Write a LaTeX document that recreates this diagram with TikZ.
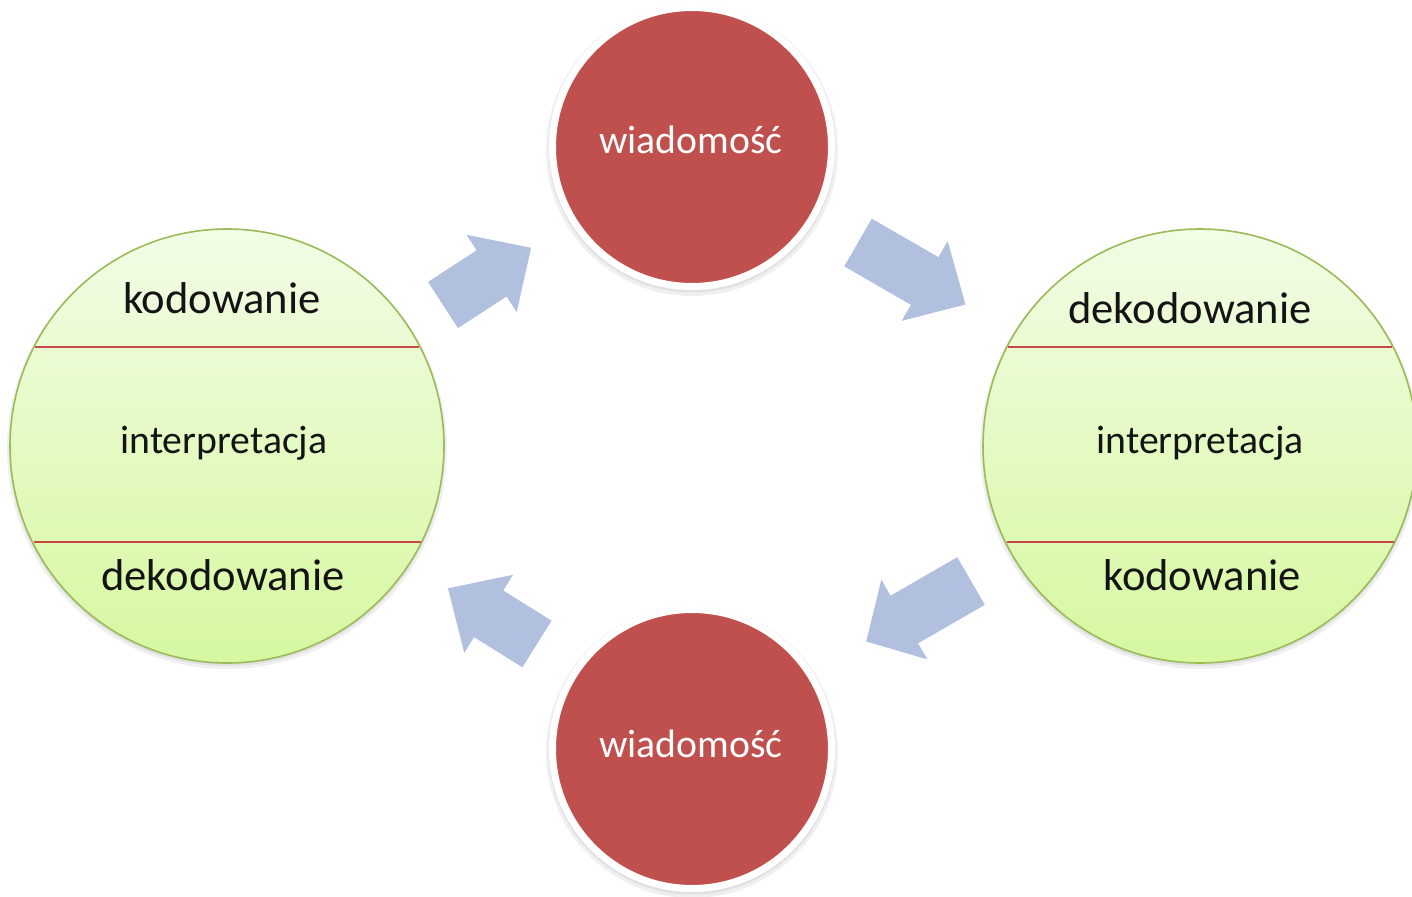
\documentclass[tikz,border=0pt]{standalone}
\usepackage{fontspec}
\setmainfont{Carlito}
\definecolor{redfill}{RGB}{192,80,77}
\definecolor{greenline}{RGB}{155,187,89}
\definecolor{greentop}{RGB}{242,252,230}
\definecolor{greenbot}{RGB}{214,248,160}
\definecolor{arrowblue}{RGB}{176,192,222}
\definecolor{chordred}{RGB}{200,72,70}
\newcommand\blockarrow[4]{%
  \fill[arrowblue, shift={#1}, rotate=#2]
    (0,-27.5) -- (#3,-27.5) -- (#3,-46) -- (#4,0) -- (#3,46) -- (#3,27.5) -- (0,27.5) -- cycle;}
\begin{document}
\begin{tikzpicture}[x=1pt,y=-1pt,
  bigcircle/.style={circle, draw=greenline, line width=1.6pt, top color=greentop, bottom color=greenbot,
    minimum size=434pt, inner sep=0pt, outer sep=0pt},
  msgcircle/.style={circle, fill=redfill, draw=white, line width=7pt, minimum size=279pt,
    inner sep=0pt, outer sep=0pt},
  softshadow/.style={circle, fill=black, opacity=0.06, draw=none, inner sep=0pt, outer sep=0pt},
  bigtext/.style={anchor=base, text=black!92, font=\fontsize{44.6}{50}\selectfont, inner sep=0pt},
  smalltext/.style={anchor=base, text=black!92, font=\fontsize{39.7}{46}\selectfont, inner sep=0pt},
  msgtext/.style={anchor=base, text=white, font=\fontsize{39.7}{46}\selectfont, inner sep=0pt},
  divider/.style={draw=chordred, line width=2pt},
  ]
\useasboundingbox[fill=white] (0,0) rectangle (1412,896);

% soft shadows
\foreach \c/\r in {{(227,449)}/440, {(227,448)}/436, {(1200,449)}/440, {(1200,448)}/436,
                   {(692,150)}/292, {(692,149)}/287, {(692,752)}/292, {(692,751)}/287}
  \node[softshadow, minimum size=\r pt] at \c {};

% circles
\node[bigcircle] (L) at (227,446) {};
\node[bigcircle] (R) at (1200,446) {};
\node[msgcircle] (MT) at (692,147) {};
\node[msgcircle] (MB) at (692,749) {};

% dividers (horizontal chords)
\draw[divider] ([shift={(-192,-99)}]L.center) -- ([shift={(192,-99)}]L.center);
\draw[divider] ([shift={(-193.5,96)}]L.center) -- ([shift={(193.5,96)}]L.center);
\draw[divider] ([shift={(-192,-99)}]R.center) -- ([shift={(192,-99)}]R.center);
\draw[divider] ([shift={(-193.5,96)}]R.center) -- ([shift={(193.5,96)}]R.center);

% texts
\node[bigtext] (l1) at (222,313) {kodowanie};
\node[smalltext] (l2) at (224,453) {interpretacja};
\node[bigtext] (l3) at (223,590) {dekodowanie};
\node[bigtext] (r1) at (1190,323) {dekodowanie};
\node[smalltext] (r2) at (1200,453) {interpretacja};
\node[bigtext] (r3) at (1202,590) {kodowanie};
\node[msgtext] (mt) at (691,154) {wiadomość};
\node[msgtext] (mb) at (691,757) {wiadomość};

% block arrows
\coordinate (a1) at (443,305);
\coordinate (a2) at (858,242.5);
\coordinate (a3) at (971,581);
\coordinate (a4) at (537,644);
\blockarrow{(a1)}{33}{58}{105}
\blockarrow{(a2)}{-30}{77}{124}
\blockarrow{(a3)}{210}{77}{121}
\blockarrow{(a4)}{148}{57}{105}
\end{tikzpicture}
\end{document}
